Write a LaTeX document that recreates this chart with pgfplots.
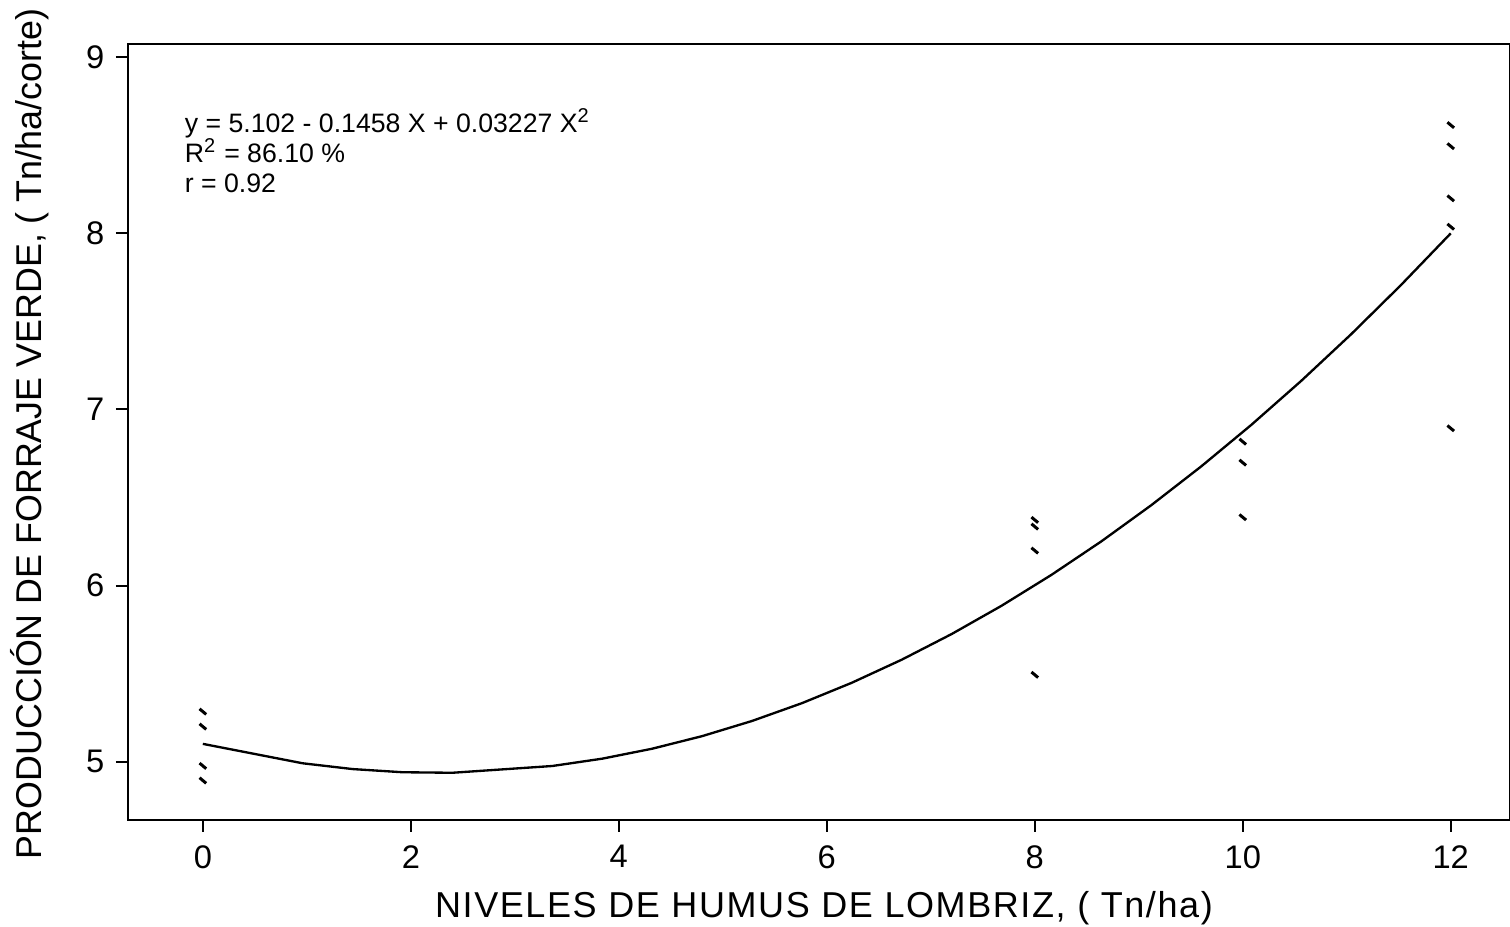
\documentclass[border=0pt]{standalone}
\usepackage{pgfplots}
\pgfplotsset{compat=1.18}
\usepackage{fontspec}
\setmainfont{Liberation Sans}
\newfontfamily\spacedfont[LetterSpace=4.4]{Liberation Sans}
\begin{document}
\begin{tikzpicture}
\path[use as bounding box] (-38.4pt,-32.1pt) rectangle (414.6pt,246pt);
\begin{axis}[
  scale only axis,
  width=414.6pt, height=232.8pt,
  at={(0,0)}, anchor=south west,
  xmin=-0.72, xmax=12.57,
  ymin=4.67, ymax=9.074,
  xtick={0,2,4,6,8,10,12},
  ytick={5,6,7,8,9},
  tick align=outside,
  xtick pos=bottom, ytick pos=left,
  major tick length=3.6pt,
  tick style={line width=0.6pt, black},
  axis line style={line width=0.6pt},
  /pgf/number format/assume math mode=true,
  ticklabel style={font=\fontsize{9.8}{11}\selectfont},
  xticklabel style={yshift=-0.5pt},
  xlabel={NIVELES DE HUMUS DE LOMBRIZ, ( Tn/ha)},
  ylabel={PRODUCCIÓN DE FORRAJE VERDE, ( Tn/ha/corte)},
  xlabel style={font=\spacedfont\fontsize{10.8}{12}\selectfont, at={(axis description cs:0.5,0)}, anchor=center, yshift=-26.4pt, xshift=1.5pt},
  ylabel style={font=\fontsize{10.75}{12}\selectfont, at={(axis description cs:0,0.5)}, anchor=center, yshift=29.4pt, xshift=-0.6pt},
  clip=false,
]
\addplot[only marks, mark=-, mark size=1.3pt, mark options={rotate=-40, line width=0.9pt, black}] coordinates {
  (0,5.285) (0,5.20) (0,4.977) (0,4.894)
  (8,6.373) (8,6.335) (8,6.199) (8,5.494)
  (10,6.817) (10,6.698) (10,6.388)
  (12,8.614) (12,8.494) (12,8.198) (12,8.037) (12,6.893)
};
\addplot[black, line width=0.7pt] coordinates {
  (0,5.102) (0.96,4.9918) (1.44,4.9590) (1.92,4.9410) (2.40,4.9380)
  (3.36,4.9764) (3.84,5.0180) (4.32,5.0744) (4.80,5.1457) (5.28,5.2318)
  (5.76,5.3328) (6.24,5.4487) (6.72,5.5795) (7.20,5.7251) (7.68,5.8856)
  (8.16,6.0610) (8.64,6.2512) (9.12,6.4564) (9.60,6.6764) (10.08,6.9112)
  (10.56,7.1609) (11.04,7.4255) (11.52,7.7050) (12.00,7.9993)
};
\node[anchor=north west, align=left, font=\fontsize{8}{9}\selectfont, inner sep=0pt]
  at (axis cs:-0.18,8.71) {y = 5.102 - 0.1458 X + 0.03227 X\textsuperscript{2}\\R\textsuperscript{2} = 86.10 \%\\r = 0.92};
\end{axis}
\end{tikzpicture}
\end{document}
